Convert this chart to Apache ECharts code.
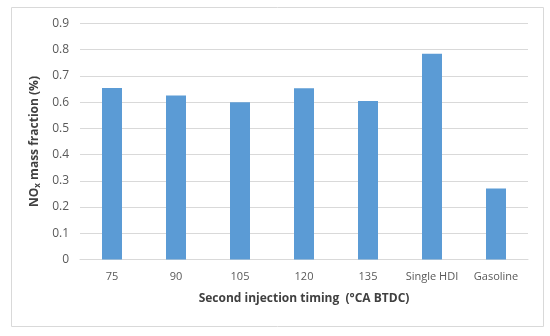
<!DOCTYPE html>
<html><head><meta charset="utf-8">
<script src="https://cdn.jsdelivr.net/npm/echarts@6/dist/echarts.min.js"></script>
<style>html,body{margin:0;padding:0;background:#fff}#c{width:550px;height:336px}</style>
</head><body><div id="c"></div>
<script>
var categories = ['75', '90', '105', '120', '135', 'Single HDI', 'Gasoline'];
var noxValues = [0.654, 0.625, 0.600, 0.653, 0.604, 0.785, 0.271];
var chart = echarts.init(document.getElementById('c'));
chart.setOption({
  animation: false,
  graphic: [{type: 'rect', shape: {x: 11.5, y: 7.5, width: 532, height: 319}, style: {fill: 'none', stroke: '#D9D9D9', lineWidth: 1}}],
  grid: {left: 80, right: 22, top: 23.5, bottom: 76.5},
  xAxis: {
    type: 'category', data: categories,
    axisLine: {lineStyle: {color: '#D9D9D9'}}, axisTick: {show: false},
    axisLabel: {color: '#595959', fontFamily: 'Open Sans', fontSize: 11, margin: 12, interval: 0},
    name: 'Second injection timing  (°CA BTDC)', nameLocation: 'middle', nameGap: 33,
    nameTextStyle: {color: '#404040', fontFamily: 'Open Sans', fontSize: 12, fontWeight: 'bold'}
  },
  yAxis: {
    type: 'value', min: 0, max: 0.9, interval: 0.1,
    axisLine: {show: false}, axisTick: {show: false},
    splitLine: {lineStyle: {color: '#D9D9D9'}},
    axisLabel: {color: '#595959', fontFamily: 'Open Sans', fontSize: 12, margin: 11,
      formatter: function(v){ return v === 0 ? '0' : v.toFixed(1); }},
    name: 'NO{s|x} mass fraction (%)', nameLocation: 'middle', nameGap: 34, nameRotate: 90,
    nameTextStyle: {color: '#404040', fontFamily: 'Open Sans', fontSize: 12, fontWeight: 'bold',
      rich: {s: {fontSize: 8, fontWeight: 'bold', color: '#404040', fontFamily: 'Open Sans', verticalAlign: 'bottom', padding: [6, 0, 0, 0]}}}
  },
  series: [{type: 'bar', data: noxValues, barWidth: 20, itemStyle: {color: '#5B9BD5'}}]
});
</script></body></html>
